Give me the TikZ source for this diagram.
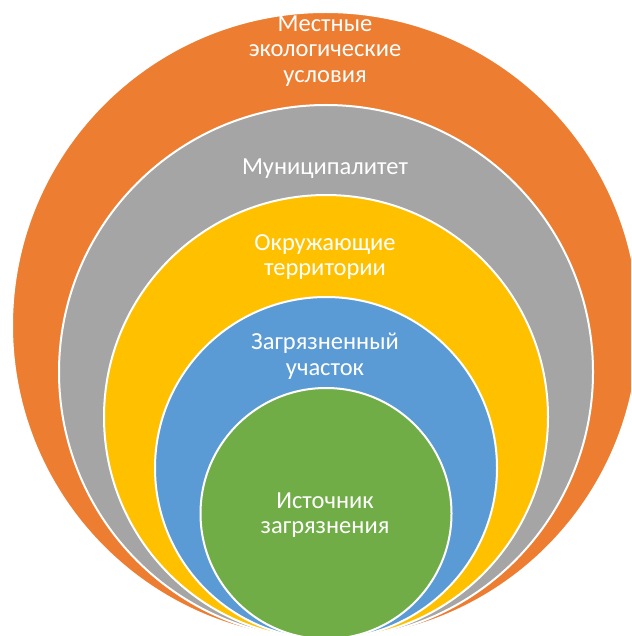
\documentclass[tikz,border=0pt]{standalone}
\usepackage{fontspec}
\setmainfont{Carlito}
\definecolor{cOrange}{HTML}{ED7D31}
\definecolor{cGray}{HTML}{A5A5A5}
\definecolor{cYellow}{HTML}{FFC000}
\definecolor{cBlue}{HTML}{5B9BD5}
\definecolor{cGreen}{HTML}{70AD47}
\begin{document}
\begin{tikzpicture}[x=1pt,y=-1pt,
  ring/.style={circle, draw=white, line width=2pt, inner sep=0pt, outer sep=0pt},
  lbl/.style={text=white, align=center, inner sep=0pt, font=\fontsize{24.5}{25.5}\selectfont}]
\useasboundingbox (0,0) rectangle (631,636);
\begin{scope}
\clip (0,0) rectangle (631,636);
\node[ring, fill=cOrange, minimum size=627pt] (orange) at (325.5,325.5) {};
\node[ring, fill=cGray, minimum size=534pt] (gray) at (326,372) {};
\node[ring, fill=cYellow, minimum size=444pt] (yellow) at (326,417) {};
\node[ring, fill=cBlue, minimum size=342pt] (blue) at (326,468) {};
\node[ring, fill=cGreen, minimum size=251pt] (green) at (326,513.5) {};
\end{scope}
\node[lbl] (t1) at (325,51) {Местные\\экологические\\условия};
\node[lbl] (t2) at (325,169) {Муниципалитет};
\node[lbl] (t3) at (325,257) {Окружающие\\территории};
\node[lbl] (t4) at (325,356) {Загрязненный\\участок};
\node[lbl] (t5) at (325,515) {Источник\\загрязнения};
\end{tikzpicture}
\end{document}
